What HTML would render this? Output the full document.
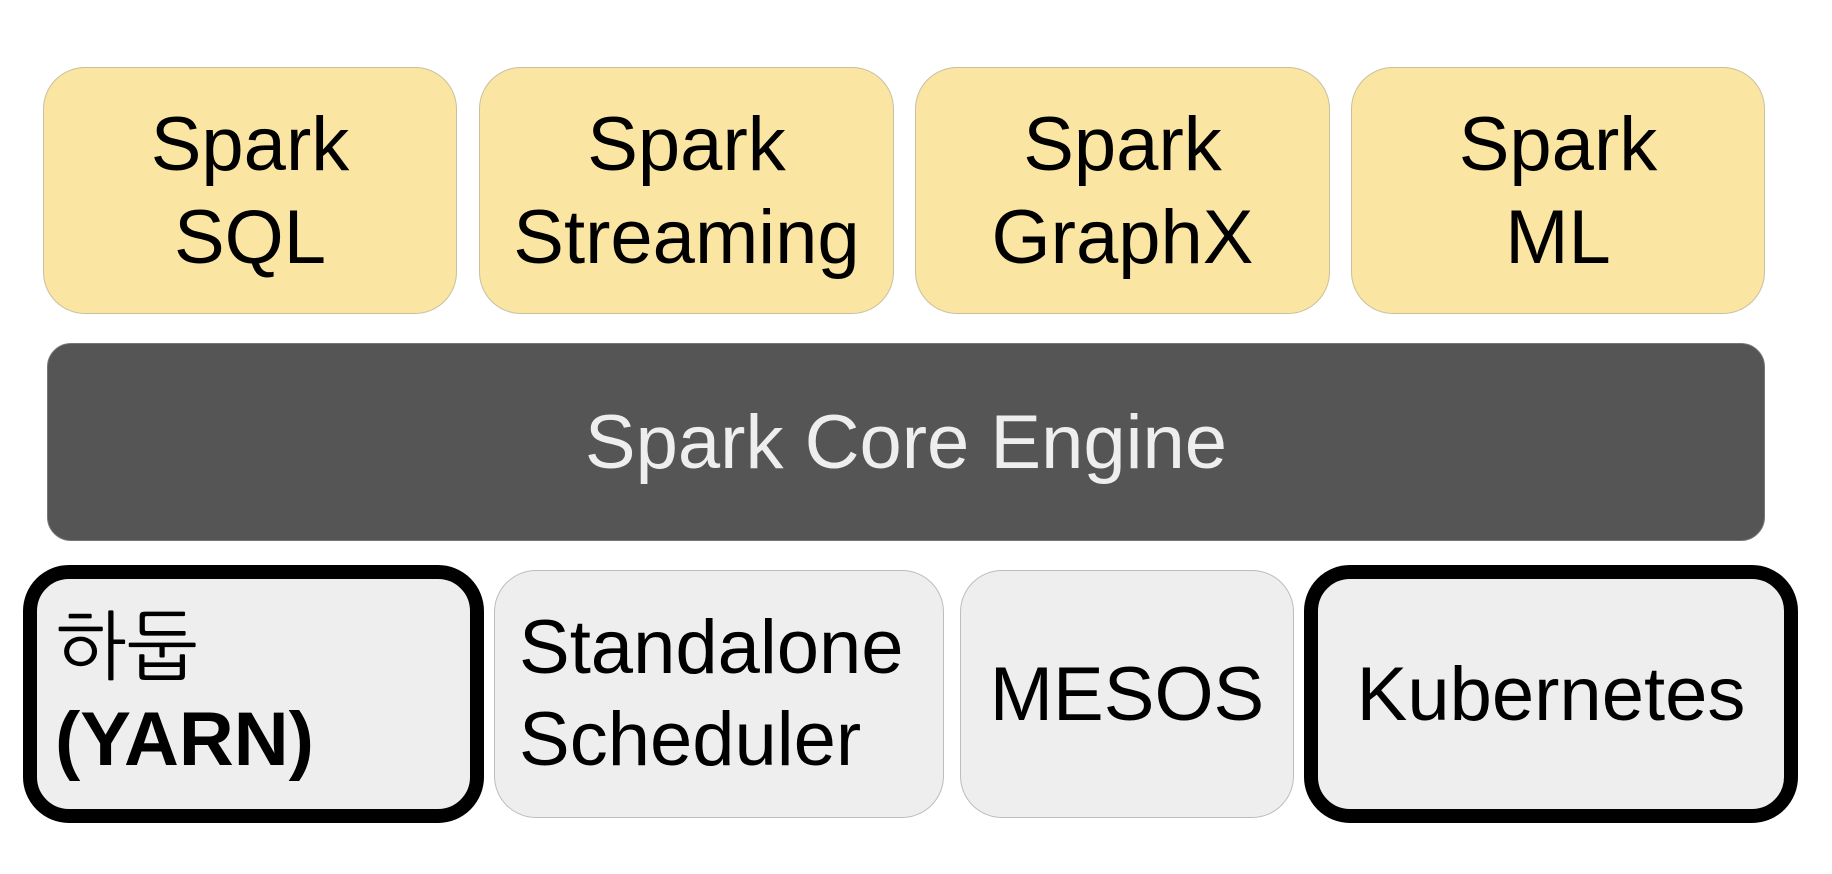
<!DOCTYPE html>
<html><head><meta charset="utf-8"><style>
html,body{margin:0;padding:0;background:#fff;}
body{width:1832px;height:874px;position:relative;overflow:hidden;font-family:"Liberation Sans","NanumGothic","Noto Sans CJK KR",sans-serif;}
.b{position:absolute;box-sizing:border-box;display:flex;align-items:center;justify-content:center;text-align:center;font-size:76px;line-height:93px;color:#000;}
.y{background:#fae5a3;border:1px solid #c8c0a0;border-radius:42px;}
.g{background:#eeeeee;border:1px solid #bdbdbd;border-radius:42px;}
.k{background:#eeeeee;border:14px solid #000;border-radius:46px;}
</style></head><body>
<div class="b y" style="left:43px;top:67px;width:414px;height:247px;">Spark<br>SQL</div>
<div class="b y" style="left:479px;top:67px;width:415px;height:247px;">Spark<br>Streaming</div>
<div class="b y" style="left:915px;top:67px;width:415px;height:247px;">Spark<br>GraphX</div>
<div class="b y" style="left:1351px;top:67px;width:414px;height:247px;">Spark<br>ML</div>
<div class="b" style="left:47px;top:343px;width:1718px;height:198px;background:#555555;border:1px solid #777;border-radius:24px;color:#eeeeee;">Spark Core Engine</div>
<div class="b k" style="left:23px;top:565px;width:461px;height:258px;justify-content:flex-start;text-align:left;padding-left:18px;line-height:92px;"><div>하둡<br><b>(YARN)</b></div></div>
<div class="b g" style="left:494px;top:570px;width:450px;height:248px;justify-content:flex-start;text-align:left;padding-left:24px;line-height:92px;"><div>Standalone<br>Scheduler</div></div>
<div class="b g" style="left:960px;top:570px;width:334px;height:248px;">MESOS</div>
<div class="b k" style="left:1304px;top:565px;width:494px;height:258px;">Kubernetes</div>
</body></html>
